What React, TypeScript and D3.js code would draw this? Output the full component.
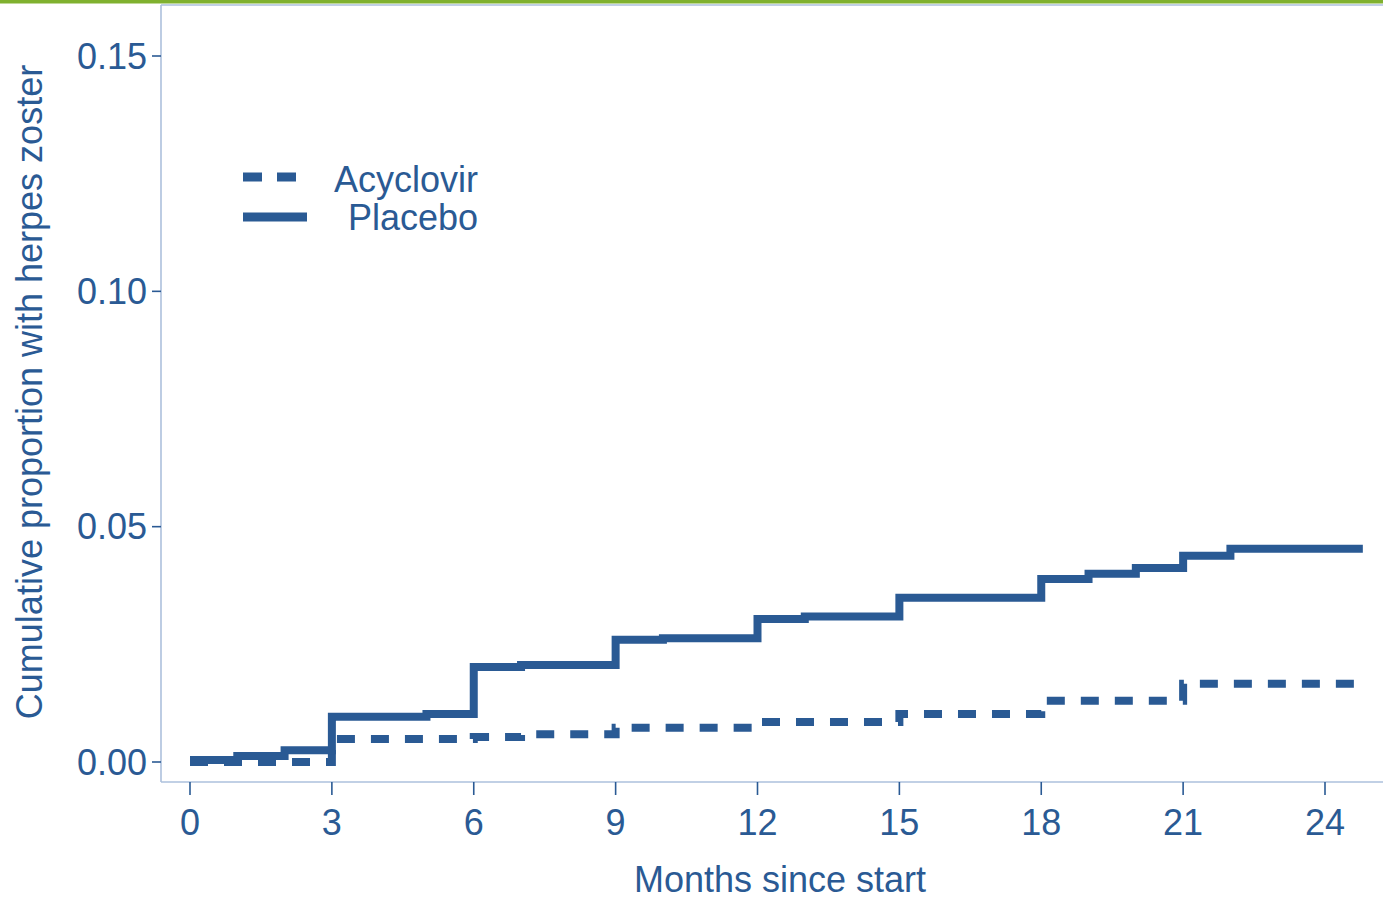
import React from "react";
import * as d3 from "d3";

const placeboMonths = [0, 1, 2, 3, 5, 6, 7, 9, 10, 12, 13, 15, 18, 19, 20, 21, 22, 24.8];
const placeboValues = [0.0004, 0.0013, 0.0025, 0.0096, 0.0102, 0.0202, 0.0206, 0.026, 0.0263, 0.0304, 0.0309, 0.0349, 0.0389, 0.04, 0.0412, 0.0438, 0.0453, 0.0453];
const acyclovirMonths = [0, 3, 6, 7, 9, 12, 15, 18, 21, 24.8];
const acyclovirValues = [0, 0.0049, 0.0053, 0.0059, 0.0073, 0.0085, 0.0102, 0.013, 0.0166, 0.0166];
const xTicks = [0, 3, 6, 9, 12, 15, 18, 21, 24];
const yTicks = [0, 0.05, 0.1, 0.15];
const seriesNames = ["Acyclovir", "Placebo"];

const W = 1383;
const H = 899;
const BLUE = "#2a5a94";
const AXIS = "#adc0dc";
const FONT = "'Liberation Sans', Arial, sans-serif";

export default function App() {
  const x = d3.scaleLinear().domain([0, 24]).range([190, 1325]);
  const y = d3.scaleLinear().domain([0, 0.15]).range([762, 56]);
  const left = 161;
  const bottom = 782;
  const top = 5;

  const line = d3
    .line<[number, number]>()
    .x((d) => x(d[0]))
    .y((d) => y(d[1]))
    .curve(d3.curveStepAfter);

  const placebo: [number, number][] = placeboMonths.map((m, i) => [m, placeboValues[i]]);
  const acyclovir: [number, number][] = acyclovirMonths.map((m, i) => [m, acyclovirValues[i]]);

  return (
    <svg
      width={W}
      height={H}
      style={{ position: "absolute", left: 0, top: 0, background: "#fff" }}
      fontFamily={FONT}
    >
      <rect x={0} y={0} width={W} height={3.5} fill="#80b12f" />
      <line x1={left} x2={W} y1={top} y2={top} stroke={AXIS} strokeWidth={1.6} />
      <line x1={left} x2={left} y1={top} y2={bottom} stroke={AXIS} strokeWidth={1.6} />
      <line x1={left} x2={W} y1={bottom} y2={bottom} stroke={AXIS} strokeWidth={1.6} />

      {yTicks.map((t) => (
        <g key={"y" + t}>
          <line x1={152} x2={left} y1={y(t)} y2={y(t)} stroke={BLUE} strokeWidth={1.6} />
          <text x={147} y={y(t) + 12.5} textAnchor="end" fontSize={36} fill={BLUE}>
            {t.toFixed(2)}
          </text>
        </g>
      ))}

      {xTicks.map((t) => (
        <g key={"x" + t}>
          <line x1={x(t)} x2={x(t)} y1={bottom} y2={795} stroke={BLUE} strokeWidth={1.6} />
          <text x={x(t)} y={835} textAnchor="middle" fontSize={36} fill={BLUE}>
            {t}
          </text>
        </g>
      ))}

      <text x={780} y={892} textAnchor="middle" fontSize={36} fill={BLUE}>
        Months since start
      </text>
      <text
        transform={`translate(42,392) rotate(-90)`}
        textAnchor="middle"
        fontSize={36}
        fill={BLUE}
      >
        Cumulative proportion with herpes zoster
      </text>

      <path
        d={line(acyclovir) || ""}
        fill="none"
        stroke={BLUE}
        strokeWidth={8}
        strokeDasharray="18 16"
      />
      <path d={line(placebo) || ""} fill="none" stroke={BLUE} strokeWidth={8} />

      <line x1={243} x2={297} y1={177} y2={177} stroke={BLUE} strokeWidth={9} strokeDasharray="19 15" />
      <line x1={243} x2={307} y1={217} y2={217} stroke={BLUE} strokeWidth={9} />
      <text x={478} y={192} textAnchor="end" fontSize={36} fill={BLUE}>
        {seriesNames[0]}
      </text>
      <text x={478} y={230} textAnchor="end" fontSize={36} fill={BLUE}>
        {seriesNames[1]}
      </text>
    </svg>
  );
}
